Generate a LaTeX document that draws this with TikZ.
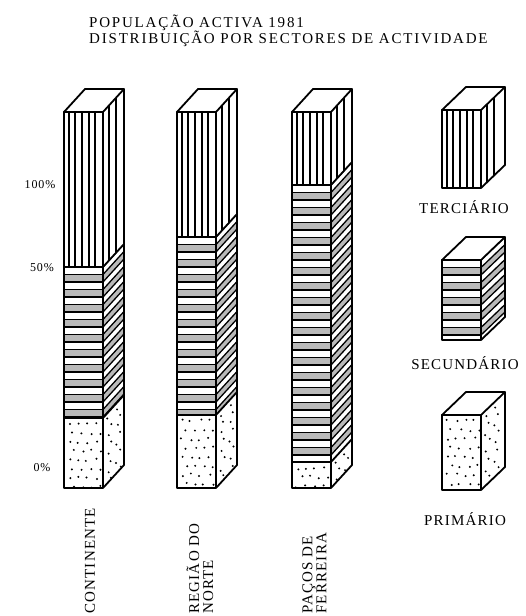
\documentclass[tikz,border=0pt]{standalone}
\usepackage{fontspec}
\setmainfont{Liberation Serif}[LetterSpace=8]
\tikzset{
  boxedge/.style={line width=1.8pt, line join=round},
  patline/.style={line width=1.3pt},
  lab/.style={inner sep=0pt, font=\fontsize{15}{14}\selectfont},
  titlelab/.style={inner sep=0pt, font=\fontsize{15}{14}\selectfont\addfontfeatures{LetterSpace=12}},
  axlab/.style={inner sep=0pt, font=\fontsize{12}{12}\selectfont},
}
% tertiary segment: x0 ya yb w dx dy
\newcommand\tseg[6]{%
 \begin{scope}
  \clip (#1,#2) rectangle (#1+#4,#3);
  \foreach \o in {5,11,18,25,31} \draw[patline] (#1+\o,#2) -- (#1+\o,#3);
 \end{scope}
 \begin{scope}
  \clip (#1+#4,#2) -- (#1+#4+#5,#2-#6) -- (#1+#4+#5,#3-#6) -- (#1+#4,#3) -- cycle;
  \foreach \o in {6,13} \draw[patline] (#1+#4+\o,#2-#6-2) -- (#1+#4+\o,#3);
 \end{scope}}
% secondary segment
\newcommand\sseg[6]{%
 \begin{scope}
  \clip (#1,#2) rectangle (#1+#4,#3);
  \foreach \k in {0,...,20}{
    \fill[gray!55] (#1,#2+\k*15+7.5) rectangle (#1+#4,#2+\k*15+15);
    \draw[patline] (#1,#2+\k*15+7.5) -- ++(#4,0);
    \draw[patline] (#1,#2+\k*15) -- ++(#4,0);
  }
 \end{scope}
 \begin{scope}
  \clip (#1+#4,#2) -- (#1+#4+#5,#2-#6) -- (#1+#4+#5,#3-#6) -- (#1+#4,#3) -- cycle;
  \foreach \k in {0,...,20}{
    \fill[gray!55] (#1+#4,#2+\k*15+7.5) -- ++(#5,-#6) -- ++(0,7.5) -- ++(-#5,#6) -- cycle;
    \draw[patline] (#1+#4,#2+\k*15+7.5) -- ++(#5,-#6);
    \draw[patline] (#1+#4,#2+\k*15) -- ++(#5,-#6);
  }
 \end{scope}}
% primary segment
\newcommand\pseg[6]{%
 \begin{scope}
  \clip (#1,#2) rectangle (#1+#4,#3);
  \foreach \k in {0,...,9}{
    \foreach \c in {0,1,2,3}{
      \pgfmathsetmacro\px{#1+5+\c*9+mod(\k,2)*4+rand*1.5}
      \pgfmathsetmacro\py{#2+6+\k*9+rand*1.5}
      \fill (\px,\py) circle[radius=1.1pt];
    }}
 \end{scope}
 \begin{scope}
  \clip (#1+#4,#2) -- (#1+#4+#5,#2-#6) -- (#1+#4+#5,#3-#6) -- (#1+#4,#3) -- cycle;
  \foreach \k in {0,...,11}{
    \foreach \c in {0,1}{
      \pgfmathsetmacro\tt{5+\c*9+mod(\k,2)*3+rand}
      \pgfmathsetmacro\px{#1+#4+\tt}
      \pgfmathsetmacro\py{#2+6+\k*9-\tt*#6/#5+rand}
      \fill (\px,\py) circle[radius=1.1pt];
    }}
 \end{scope}}
% box outline: x0 ytop ybot w dx dy
\newcommand\boxo[6]{%
 \draw[boxedge, fill=white] (#1,#2) -- (#1+#5,#2-#6) -- (#1+#4+#5,#2-#6) -- (#1+#4,#2) -- cycle;
 \draw[boxedge] (#1,#2) rectangle (#1+#4,#3);
 \draw[boxedge] (#1+#4+#5,#2-#6) -- (#1+#4+#5,#3-#6) -- (#1+#4,#3);}
% boundary: x0 y w dx dy
\newcommand\bnd[5]{%
 \draw[boxedge] (#1,#2) -- (#1+#3,#2) -- (#1+#3+#4,#2-#5);}
\begin{document}
\begin{tikzpicture}[x=1pt,y=-1pt]
\useasboundingbox[fill=white] (0,0) rectangle (525,616);
\pgfmathsetseed{11}
% title
\node[titlelab, anchor=base west] (t1) at (89,27) {POPULAÇÃO ACTIVA 1981};
\node[titlelab, anchor=base west] (t2) at (89,43) {DISTRIBUIÇÃO POR SECTORES DE ACTIVIDADE};
% axis labels
\node[axlab] (p100) at (40,185) {100\%};
\node[axlab] (p50) at (42,268) {50\%};
\node[axlab] (p0) at (42,468) {0\%};
% bar 1: continente
\tseg{64}{112}{267}{39}{21}{23}
\sseg{64}{267}{418}{39}{21}{23}
\pseg{64}{418}{488}{39}{21}{23}
\bnd{64}{267}{39}{21}{23}
\bnd{64}{418}{39}{21}{23}
\boxo{64}{112}{488}{39}{21}{23}
% bar 2: regiao do norte
\tseg{177}{112}{237}{39}{21}{23}
\sseg{177}{237}{415}{39}{21}{23}
\pseg{177}{415}{488}{39}{21}{23}
\bnd{177}{237}{39}{21}{23}
\bnd{177}{415}{39}{21}{23}
\boxo{177}{112}{488}{39}{21}{23}
% bar 3: pacos de ferreira
\tseg{292}{112}{185}{39}{21}{23}
\sseg{292}{185}{462}{39}{21}{23}
\pseg{292}{462}{488}{39}{21}{23}
\bnd{292}{185}{39}{21}{23}
\bnd{292}{462}{39}{21}{23}
\boxo{292}{112}{488}{39}{21}{23}
% bar labels
\node[lab, rotate=90, anchor=west] (c1) at (90,614) {CONTINENTE};
\node[lab, rotate=90, anchor=west, align=left] (c2) at (200,614) {REGIÃO DO\\NORTE};
\node[lab, rotate=90, anchor=west, align=left] (c3) at (314.5,614) {PAÇOS DE\\FERREIRA};
% legend
\tseg{442}{110}{188}{39}{24}{23}
\boxo{442}{110}{188}{39}{24}{23}
\node[lab] (lt) at (464,207) {TERCIÁRIO};
\sseg{442}{260}{340}{39}{24}{23}
\boxo{442}{260}{340}{39}{24}{23}
\node[lab] (ls) at (465,363) {SECUNDÁRIO};
\pseg{442}{415}{490}{39}{24}{23}
\boxo{442}{415}{490}{39}{24}{23}
\node[lab] (lp) at (465,519) {PRIMÁRIO};
\end{tikzpicture}
\end{document}
